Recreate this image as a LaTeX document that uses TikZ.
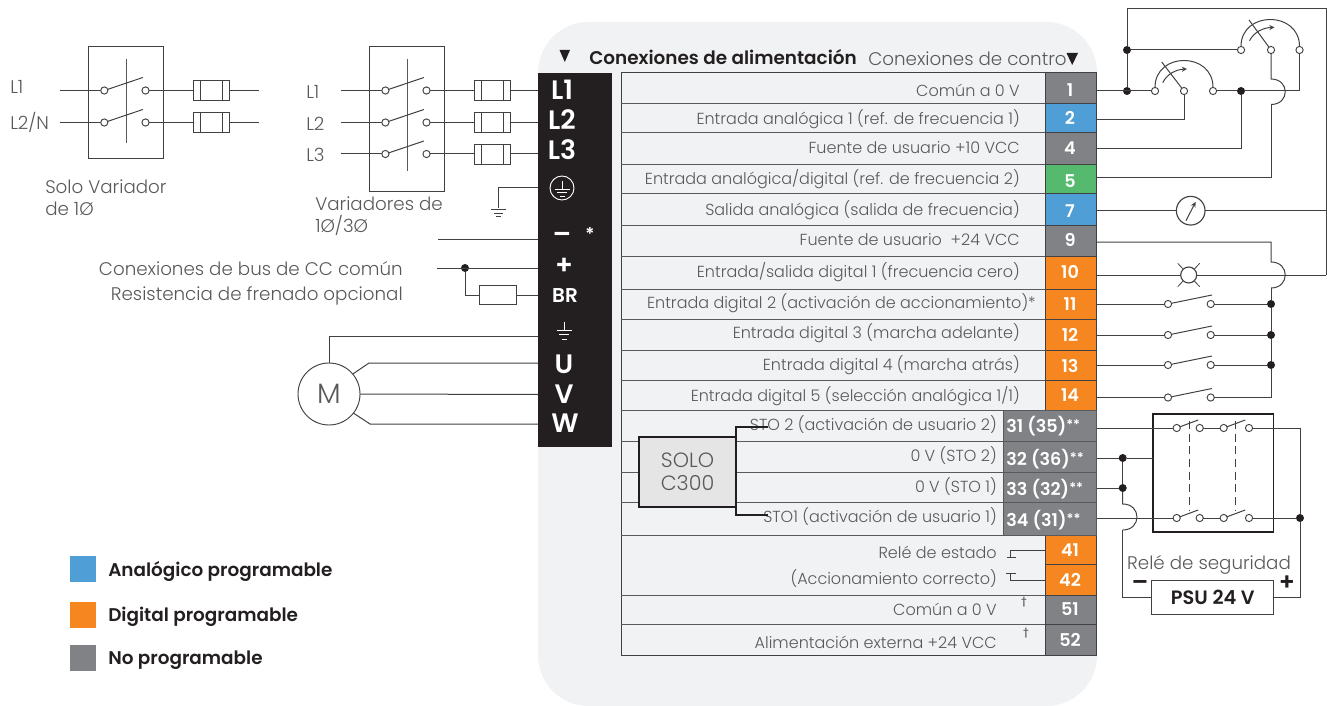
\documentclass[tikz,border=0pt]{standalone}
\usepackage{fontspec}
\setmainfont{Poppins Light}[BoldFont={Poppins SemiBold}]
\usepackage{tikz}
\usetikzlibrary{calc}

\definecolor{panelgrey}{HTML}{F1F2F4}
\definecolor{inkblack}{HTML}{231F20}
\definecolor{wiregrey}{HTML}{414042}
\definecolor{textgrey}{HTML}{58595B}
\definecolor{termgrey}{HTML}{808285}
\definecolor{termblue}{HTML}{4F9FD6}
\definecolor{termgreen}{HTML}{55B96E}
\definecolor{termorange}{HTML}{F6861F}

\tikzset{
  wire/.style={draw=wiregrey,line width=0.75pt},
  contact/.style={circle,draw=wiregrey,fill=white,line width=0.7pt,inner sep=0pt,minimum size=5.4pt,outer sep=0pt},
  joint/.style={circle,fill=inkblack,inner sep=0pt,minimum size=6pt,outer sep=0pt},
  frame/.style={draw=wiregrey,line width=0.7pt,inner sep=0pt,outer sep=0pt},
  fuse/.style={frame,fill=white,minimum width=27.4pt,minimum height=15pt,
    path picture={\draw[wiregrey,line width=0.7pt]
      ([xshift=5.6pt]path picture bounding box.north west) -- ([xshift=5.6pt]path picture bounding box.south west)
      ([xshift=-5.6pt]path picture bounding box.north east) -- ([xshift=-5.6pt]path picture bounding box.south east);}},
  lbl/.style={font=\fontsize{13.7}{15}\selectfont,text=textgrey,inner sep=0pt},
  rowlbl/.style={font=\fontsize{12}{14}\selectfont,text=textgrey,inner sep=0pt,anchor=east},
  sidelbl/.style={lbl,anchor=east},
  termlbl/.style={font=\fontsize{13.2}{15}\bfseries\selectfont,text=white,inner sep=0pt},
  blocklbl/.style={font=\fontsize{20}{22}\bfseries\selectfont,text=white,inner sep=0pt},
  legendlbl/.style={font=\fontsize{13.8}{15}\bfseries\selectfont,text=inkblack,inner sep=0pt,anchor=west},
  downmark/.style={fill=inkblack}
}
\newcommand{\gndmark}[4]{% x, y, colour, spacing
  \draw[#3,line width=0.7pt] (#1,#2-8) -- (#1,#2) (#1-7.5,#2) -- (#1+7.5,#2)
    (#1-5,#2+#4) -- (#1+5,#2+#4) (#1-2.5,#2+2*#4) -- (#1+2.5,#2+2*#4);}

\begin{document}
\begin{tikzpicture}[x=0.75pt,y=-0.75pt]
  \useasboundingbox (0,0) rectangle (1327,706);

  % panel and power block
  \fill[panelgrey,rounded corners=38pt] (538,22) rectangle (1097,706);
  \fill[inkblack] (538,73) rectangle (612,447);
  \fill[downmark] (559.5,50) -- (570,50) -- (564.8,62) -- cycle;
  \node[font=\fontsize{13.8}{15}\bfseries\selectfont,text=inkblack,anchor=west,inner sep=0pt] (headpower) at (589,57) {Conexiones de alimentación};
  \node[font=\fontsize{13.7}{15}\selectfont,text=textgrey,anchor=west,inner sep=0pt] (headcontrol) at (868,59) {Conexiones de contro};
  \fill[downmark] (1066.5,53) -- (1078,53) -- (1072.2,65) -- cycle;

  % power terminals
  \foreach \n/\x/\y/\txt in {L1/562/90/L1,L2/562/120/L2,L3/562/150/L3,minus/562/238/{--},plus/564/266/+,U/564/364/U,V/564/394/V,W/565/423/W}
    \node[blocklbl] (p\n) at (\x,\y) {\txt};
  \node[blocklbl,font=\fontsize{15}{16}\bfseries\selectfont] (pBR) at (565,296) {BR};
  \node[termlbl] (pstar) at (590,234) {*};
  \node[circle,draw=white,line width=0.7pt,inner sep=0pt,minimum size=18pt] (pearth) at (562,188) {};
  \gndmark{562}{189}{white}{3.5}
  \gndmark{564}{330}{white}{4.5}

  % control table
  \draw[wiregrey,fill=panelgrey,line width=0.75pt] (621,73) rectangle (1096,655);
  \foreach \y in {104,133,165,193,225,256,289,319,350,380,410,535,595,624}
    \draw[textgrey,line width=0.75pt] (621,\y) -- (1045,\y);
  \foreach \y in {441,472,502}
    \draw[textgrey,line width=0.75pt] (621,\y) -- (1003,\y);

  % terminal cells
  \foreach \top/\bot/\col in {73/104/termgrey,104/133/termblue,133/165/termgrey,165/193/termgreen,193/225/termblue,225/256/termgrey,
      256/289/termorange,289/319/termorange,319/350/termorange,350/380/termorange,380/410/termorange,
      535/564/termorange,564/595/termorange,595/624/termgrey,624/655/termgrey}
    \draw[fill=\col,draw=wiregrey,line width=0.75pt] (1045,\top) rectangle (1096,\bot);
  \foreach \top/\bot in {410/441,441/472,472/502,502/535}
    \draw[fill=termgrey,draw=textgrey,line width=0.6pt] (1003,\top) rectangle (1096,\bot);

  % terminal numbers
  \foreach \n/\y in {1/90,2/118,4/148,5/181,7/211,9/240,10/272,11/304,12/335,13/366,14/395,41/550,42/580,51/609,52/640}
    \node[termlbl] (t\n) at (1070,\y) {\n};
  \foreach \n/\y/\txt in {31/426/{31 (35)},32/459/{32 (36)},33/489/{33 (32)},34/520/{34 (31)}}
    \node[termlbl,anchor=west] (t\n) at (1006,\y) {\txt\raisebox{2pt}{\fontsize{10}{10}\selectfont**}};

  % row labels
  \foreach \n/\x/\y/\txt in {1/1020/90/{Común a 0 V},2/1020/119/{Entrada analógica 1 (ref. de frecuencia 1)},4/1020/148/{Fuente de usuario +10 VCC},
      5/1020/179/{Entrada analógica/digital (ref. de frecuencia 2)},7/1020/210/{Salida analógica (salida de frecuencia)},
      9/1020/240/{Fuente de usuario\ \ +24 VCC},10/1020/272/{Entrada/salida digital 1 (frecuencia cero)},
      11/1036/303/{Entrada digital 2 (activación de accionamiento)*},12/1020/333/{Entrada digital 3 (marcha adelante)},
      13/1020/365/{Entrada digital 4 (marcha atrás)},14/1020/396/{Entrada digital 5 (selección analógica 1/1)},
      31/997/425/{STO 2 (activación de usuario 2)},32/997/456/{0 V (STO 2)},33/997/487/{0 V (STO 1)},34/997/517/{STO1 (activación de usuario 1)},
      41/997/552/{Relé de estado},42/997/579/{(Accionamiento correcto)},51/997/609/{Común a 0 V},52/997/642/{Alimentación externa +24 VCC}}
    \node[rowlbl] (r\n) at (\x,\y) {\txt};
  \node[lbl,font=\fontsize{7}{8}\selectfont] (dag51) at (1024,602) {\textbf{†}};
  \node[lbl,font=\fontsize{7}{8}\selectfont] (dag52) at (1026,633) {\textbf{†}};

  % SOLO C300 module
  \node[draw=inkblack,fill=black!10,line width=1.6pt,minimum width=72.7pt,minimum height=52.5pt,inner sep=0pt,outer sep=0pt,
    font=\fontsize{15.5}{17.5}\selectfont,text=textgrey,align=center] (solo) at (687.5,472) {SOLO\\C300};
  \coordinate (sto2) at (768,427);
  \coordinate (sto1) at (768,515);
  \draw[inkblack,line width=1.6pt] (sto2) -| (solo.north east);
  \draw[inkblack,line width=1.6pt] (sto1) -| (solo.south east);

  % status relay contact
  \coordinate (k41) at (1010,557);
  \coordinate (k42) at (1010,573);
  \draw[wire] (1045,550) -| (k41);
  \draw[wire] (1045,580.5) -| (k42);
  \draw[wire] (1007,557) -- (1016,557) (1006,573) -- (1016,573);

  % supply side: single phase
  \foreach \b/\xa/\ya/\ha in {swa/125.5/102/112,swb/406.5/118.5/145}
    \node[frame,minimum width=56.2pt,minimum height=\ha*0.75pt] (\b) at (\xa,\ya) {};
  \draw[wire,textgrey] (126,59) -- (126,143);
  \draw[wire,textgrey] (407,59) -- (407,171);
  \foreach \n/\y in {a/90.5,b/122.5} {
    \coordinate (in\n) at (60,\y);
    \coordinate (out\n) at (259,\y);
    \node[contact] (ca\n) at (104.3,\y) {};
    \node[contact] (cb\n) at (145.5,\y) {};
    \node[fuse] (f\n) at (211.3,\y) {};
    \draw[wire] (in\n) -- (ca\n);
    \draw[wire] (cb\n) -- (f\n) -- (out\n);
    \draw[wire] (ca\n) -- ++(38.5,-13);
  }
  \node[lbl,anchor=west] (la) at (10,87) {L1};
  \node[lbl,anchor=west] (lb) at (10,122) {L2/N};
  \node[lbl,anchor=north west,align=left,font=\fontsize{13.7}{16.5}\selectfont] (capa) at (45,179) {Solo Variador\\de 1Ø};

  % supply side: three phase
  \foreach \n/\y/\txt in {1/90.5/L1,2/122.5/L2,3/154/L3} {
    \node[lbl,anchor=west] (ll\n) at (306,\y+1) {\txt};
    \coordinate (inl\n) at (340.7,\y);
    \coordinate (blk\n) at (538,\y);
    \node[contact] (da\n) at (385.4,\y) {};
    \node[contact] (db\n) at (426.5,\y) {};
    \node[fuse] (g\n) at (492.3,\y) {};
    \draw[wire] (inl\n) -- (da\n);
    \draw[wire] (db\n) -- (g\n) -- (blk\n);
    \draw[wire] (da\n) -- ++(38.5,-13);
  }
  \node[lbl,anchor=north west,align=left,font=\fontsize{13.7}{16.5}\selectfont] (capb) at (315,196) {Variadores de\\1Ø/3Ø};

  % earth wire
  \coordinate (blockgnd) at (538,187.5);
  \coordinate (gndtop) at (498,208);
  \draw[wire] (blockgnd) -| (gndtop);
  \draw[wire] (490.5,209) -- (505.5,209) (493.5,213) -- (502.5,213) (496,216.5) -- (500.5,216.5);

  % dc bus and brake resistor
  \coordinate (busneg) at (437.5,239);
  \coordinate (buspos) at (437,268);
  \coordinate (blockneg) at (538,239);
  \coordinate (blockpos) at (538,268);
  \coordinate (blockbr) at (538,295);
  \node[joint] (busdot) at (465,268) {};
  \node[frame,fill=white,minimum width=27.4pt,minimum height=14.6pt] (brake) at (498.2,295) {};
  \draw[wire] (busneg) -- (blockneg);
  \draw[wire] (buspos) -- (blockpos);
  \draw[wire] (busdot) |- (brake);
  \draw[wire] (brake) -- (blockbr);
  \node[sidelbl] (busa) at (403,269) {Conexiones de bus de CC común};
  \node[sidelbl] (busb) at (403,296) {Resistencia de frenado opcional};

  % motor
  \node[circle,draw=wiregrey,fill=white,line width=0.7pt,minimum size=46.5pt,inner sep=0pt,outer sep=0pt,
    font=\fontsize{21}{23}\selectfont,text=textgrey] (motor) at (329,394) {M};
  \draw[wire] (motor.north) |- (538,336);
  \coordinate (mbendu) at (369,363);
  \coordinate (mbendw) at (370,424);
  \draw[wire] (motor.40) -- (mbendu) -- (538,363);
  \draw[wire] (motor.east) -- (538,394.5);
  \draw[wire] (motor.-38) -- (mbendw) -- (538,424);

  % potentiometer on 1, 2, 4
  \foreach \n/\x in {a/1155,b/1184,c/1213}
    \node[contact] (pa\n) at (\x,91) {};
  \node[joint] (dotcom) at (1127,91) {};
  \node[joint] (dotcomb) at (1127,50) {};
  \node[joint] (dotref) at (1241,91) {};
  \coordinate (w1) at (1097,91);
  \coordinate (w2) at (1097,120);
  \coordinate (w4) at (1097,149);
  \coordinate (w5) at (1097,177.7);
  \coordinate (w7) at (1097,210.7);
  \coordinate (w9) at (1097,242);
  \coordinate (w10) at (1097,275);
  \draw[wire] (w1) -- (paa);
  \draw[wire] (pac) -- (dotref);
  \draw[wire] (w2) -| (pab);
  \draw[wire] (w4) -| (dotref);
  \draw[wire] (paa) .. controls +(0,-39.5) and +(0,-39.5) .. (pac);
  \coordinate (wipa) at (1161.7,62);
  \draw[wire] (wipa) -- (pab);
  \coordinate (arra) at (1162.7,82.7);
  \coordinate (arrb) at (1187,69);
  \draw[wire,-stealth] (arra) .. controls (1167,74) and (1176,69.5) .. (arrb);

  % potentiometer on 5
  \foreach \n/\x in {a/1241,b/1271,c/1299.5}
    \node[contact] (pb\n) at (\x,50) {};
  \draw[wire] (dotcomb) -- (pba);
  \draw[wire] (pba) .. controls +(0,-39.5) and +(0,-39.5) .. (pbc);
  \coordinate (wipb) at (1249,20);
  \draw[wire] (wipb) -- (pbb);
  \coordinate (arrc) at (1249.5,40.7);
  \coordinate (arrd) at (1274.5,27.3);
  \draw[wire,-stealth] (arrc) .. controls (1254,32) and (1263,27.8) .. (arrd);
  \coordinate (humpa) at (1271,79);
  \coordinate (humpb) at (1271,104.5);
  \draw[wire] (dotref) -- (1299.5,91) -- (pbc);
  \draw[wire] (pbb) -- (humpa) .. controls +(19,0) and +(19,0) .. (humpb);
  \draw[wire] (humpb) |- (w5);

  % return loop over the top, meter, lamp
  \coordinate (loopa) at (1127,9);
  \coordinate (loopb) at (1326,9);
  \coordinate (loopc) at (1326,275);
  \coordinate (loopd) at (1326,210.7);
  \draw[wire] (dotcom) -- (dotcomb) -- (loopa) -- (loopb) -- (loopc);
  \draw[wire] (w1) -- (dotcom);
  \node[circle,draw=wiregrey,fill=white,line width=0.85pt,minimum size=21.5pt,inner sep=0pt,outer sep=0pt] (meter) at (1190.7,210.7) {};
  \coordinate (neea) at (1186,220.7);
  \coordinate (neeb) at (1195.5,202);
  \draw[wire,-stealth] (neea) -- (neeb);
  \draw[wire] (w7) -- (meter);
  \draw[wire] (meter) -- (loopd);
  \draw[wire,line width=0.6pt] (1177.7,263.3) -- (1199.7,286.7) (1177.7,286.7) -- (1199.7,263.3);
  \draw[wire] (w10) -- (loopc);
  \node[circle,draw=wiregrey,fill=white,line width=0.85pt,minimum size=12pt,inner sep=0pt,outer sep=0pt] (lamp) at (1188.7,275) {};

  % digital input switches
  \foreach \n/\y in {11/304,12/335,13/365,14/397.5} {
    \coordinate (w\n) at (1097,\y);
    \node[contact] (sa\n) at (1168,\y) {};
    \node[contact] (sb\n) at (1210.7,\y) {};
    \draw[wire] (w\n) -- (sa\n);
    \draw[wire] (sa\n) -- ++(44,-9);
  }
  \foreach \n/\y in {11/304,12/335,13/365} {
    \node[joint] (sd\n) at (1271,\y) {};
    \draw[wire] (sb\n) -- (sd\n);
  }
  \coordinate (humpc) at (1271,262);
  \coordinate (humpd) at (1271,288);
  \coordinate (sd14) at (1271,397.5);
  \draw[wire] (w9) -| (humpc) .. controls +(19,0) and +(19,0) .. (humpd);
  \draw[wire] (humpd) -- (sd11) -- (sd12) -- (sd13) -- (sd14) -- (sb14);

  % safety relay
  \node[draw=inkblack,line width=1.2pt,minimum width=90.7pt,minimum height=88.5pt,inner sep=0pt,outer sep=0pt] (relay) at (1213.2,473) {};
  \foreach \n/\x in {a/1176.7,b/1199.7,c/1223.7,d/1249} {
    \node[contact] (ru\n) at (\x,428) {};
    \node[contact] (rl\n) at (\x,518) {};
  }
  \coordinate (w31) at (1097,428);
  \coordinate (w32) at (1097,458);
  \coordinate (w33) at (1097,488);
  \coordinate (w34) at (1097,518);
  \node[joint] (dot32) at (1122.7,458) {};
  \node[joint] (dot33) at (1122.7,488) {};
  \node[joint] (dotplus) at (1300,518) {};
  \draw[wire] (w31) -- (rua);
  \draw[wire] (rub) -- (ruc);
  \draw[wire] (rud) -| (dotplus);
  \draw[wire] (w34) -- (rla);
  \draw[wire] (rlb) -- (rlc);
  \draw[wire] (rld) -- (dotplus);
  \draw[wire] (w32) -- (dot32) -- (dot32 -| relay.west);
  \draw[wire] (w33) -- (dot33);
  \draw[wire] (dot32) -- (dot33);
  \foreach \n in {ua,uc,la,lc}
    \draw[wire] (r\n) -- ++(21.5,-8);
  \draw[wire,dashed,dash pattern=on 6pt off 3.5pt] (1189,421) -- (1189,510);
  \draw[wire,dashed,dash pattern=on 6pt off 3.5pt] (1235.7,421) -- (1235.7,510);

  % psu
  \node[frame,fill=white,minimum width=91.3pt,minimum height=25pt,font=\fontsize{14.5}{16}\bfseries\selectfont,text=inkblack] (psu) at (1212.8,597.3) {PSU 24 V};
  \node[lbl] (relaylbl) at (1209,565) {Relé de seguridad};
  \node[font=\fontsize{18}{20}\bfseries\selectfont,text=inkblack,inner sep=0pt] (psuminus) at (1140,586) {--};
  \node[font=\fontsize{18}{20}\bfseries\selectfont,text=inkblack,inner sep=0pt] (psuplus) at (1287,583) {+};
  \coordinate (humpe) at (1122.7,504);
  \coordinate (humpf) at (1122.7,530);
  \draw[wire] (dot33) -- (humpe) .. controls +(19,0) and +(19,0) .. (humpf);
  \draw[wire] (humpf) |- (psu);
  \draw[wire] (psu) -| (dotplus);

  % legend
  \foreach \n/\y/\col/\txt in {a/569/termblue/{Analógico programable},b/615/termorange/{Digital programable},c/658/termgrey/{No programable}} {
    \node[fill=\col,minimum size=19.5pt,inner sep=0pt] (key\n) at (83,\y) {};
    \node[legendlbl] (keytxt\n) at (108,\y+2) {\txt};
  }
\end{tikzpicture}
\end{document}
